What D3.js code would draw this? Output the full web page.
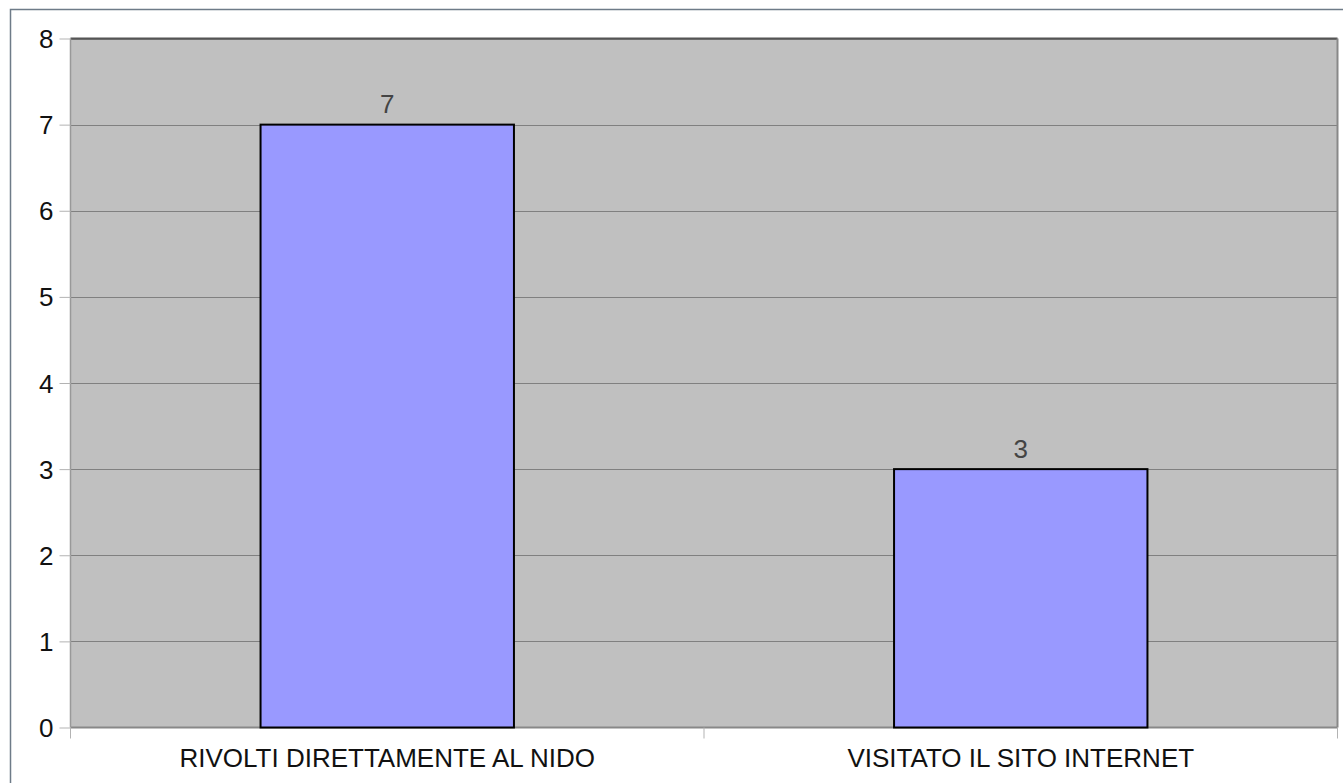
<!DOCTYPE html>
<html><head><meta charset="utf-8">
<script src="https://cdn.jsdelivr.net/npm/d3@7"></script>
<style>body{margin:0;background:#fff;}svg{display:block;font-family:"Liberation Sans",Arial,sans-serif;}</style>
</head><body>
<svg id="c" width="1343" height="783"></svg>
<script>
const categories = ["RIVOLTI DIRETTAMENTE AL NIDO", "VISITATO IL SITO INTERNET"];
const values = [7, 3];
const yTicks = [0, 1, 2, 3, 4, 5, 6, 7, 8];

const svg = d3.select("#c");
const L = 70.5, R = 1337.5, T = 38.5, B = 727.5;
const FONT = "Liberation Sans, Arial, sans-serif";

svg.append("rect").attr("x", 10.5).attr("y", 9.5).attr("width", 1340).attr("height", 780)
  .attr("fill", "none").attr("stroke", "#6e7b88").attr("stroke-width", 1.5);

const x = d3.scaleBand().domain(categories).range([L, R]).padding(0);
const y = d3.scaleLinear().domain([0, 8]).range([B, T]);

svg.append("rect").attr("x", L).attr("y", T).attr("width", R - L).attr("height", B - T)
  .attr("fill", "#c0c0c0");

// gridlines
svg.append("g").selectAll("line").data(yTicks.filter(d => d > 0)).join("line")
  .attr("x1", L).attr("x2", R)
  .attr("y1", d => Math.round(y(d)) + 0.5).attr("y2", d => Math.round(y(d)) + 0.5)
  .attr("stroke", "#808080").attr("stroke-width", 1);

// wall border
svg.append("line").attr("x1", L).attr("x2", R).attr("y1", T).attr("y2", T).attr("stroke", "#555").attr("stroke-width", 2);
svg.append("line").attr("x1", R).attr("x2", R).attr("y1", T).attr("y2", B).attr("stroke", "#888").attr("stroke-width", 2);
svg.append("line").attr("x1", L).attr("x2", R).attr("y1", B).attr("y2", B).attr("stroke", "#888").attr("stroke-width", 2);
svg.append("line").attr("x1", L).attr("x2", L).attr("y1", T).attr("y2", B).attr("stroke", "#999").attr("stroke-width", 1.5);

// y axis
const yAxis = d3.axisLeft(y).tickValues(yTicks).tickSize(11).tickPadding(6).tickFormat(d3.format("d"));
const ya = svg.append("g").attr("transform", `translate(${L},0)`).call(yAxis);
ya.select(".domain").remove();
ya.selectAll(".tick line").attr("stroke", "#b3b3b3");
ya.selectAll(".tick text").attr("font-size", 26).attr("fill", "#111").attr("font-family", FONT).attr("dy", "0.35em");

// x axis tick marks at band boundaries
const bounds = [L].concat(categories.map(c => x(c) + x.bandwidth()));
svg.append("g").selectAll("line").data(bounds).join("line")
  .attr("x1", d => d).attr("x2", d => d).attr("y1", B).attr("y2", B + 11)
  .attr("stroke", "#b3b3b3");

const xAxis = d3.axisBottom(x).tickSize(0).tickPadding(21);
const xa = svg.append("g").attr("transform", `translate(0,${B})`).call(xAxis);
xa.select(".domain").remove();
xa.selectAll(".tick text").attr("font-size", 26).attr("fill", "#111").attr("font-family", FONT);

// bars
const bw = x.bandwidth() * 0.4;
svg.append("g").selectAll("rect").data(values).join("rect")
  .attr("x", (d, i) => x(categories[i]) + (x.bandwidth() - bw) / 2)
  .attr("y", d => y(d))
  .attr("width", bw)
  .attr("height", d => B - y(d))
  .attr("fill", "#9999ff").attr("stroke", "#000").attr("stroke-width", 2);

// value labels
svg.append("g").selectAll("text").data(values).join("text")
  .attr("x", (d, i) => x(categories[i]) + x.bandwidth() / 2)
  .attr("y", d => y(d) - 11.5)
  .attr("text-anchor", "middle")
  .attr("font-size", 26).attr("fill", "#444").attr("font-family", FONT)
  .text(d => d);
</script>
</body></html>
